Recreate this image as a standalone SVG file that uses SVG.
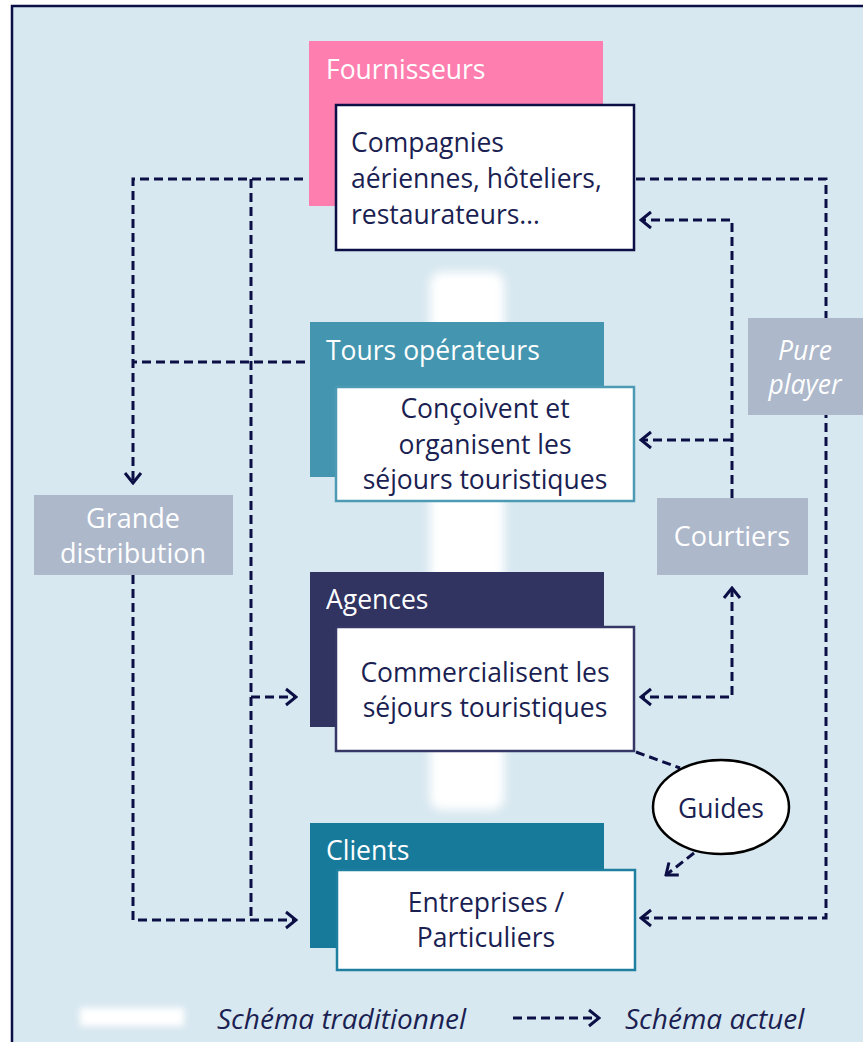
<svg xmlns="http://www.w3.org/2000/svg" width="863" height="1042" viewBox="0 0 863 1042">
<defs>
<filter id="blur" x="-30%" y="-10%" width="160%" height="120%"><feGaussianBlur stdDeviation="5"/></filter>
<filter id="blur2" x="-20%" y="-80%" width="140%" height="260%"><feGaussianBlur stdDeviation="3"/></filter>
<marker id="arr" viewBox="0 0 14 20" refX="12" refY="10" markerWidth="14" markerHeight="20" markerUnits="userSpaceOnUse" orient="auto-start-reverse">
<path d="M2,2 L12,10 L2,18" fill="none" stroke="#0b0f45" stroke-width="3"/>
</marker>
</defs>
<style>
.t{font-family:"Open Sans","Noto Sans",sans-serif;font-size:26.5px}
.title{fill:#ffffff}
.body{fill:#1b1f52;text-anchor:middle}
.gray{fill:#adb8cb}
.graytxt{fill:#ffffff;text-anchor:middle;font-size:27px}
.it{font-style:italic;font-size:28px}
.pp{font-style:italic;font-size:26.5px}
.dash{fill:none;stroke:#0b0f45;stroke-width:3;stroke-dasharray:9 5}
</style>
<rect x="12" y="6" width="900" height="1100" fill="#d8e8f0" stroke="#0b0f45" stroke-width="2.5"/>
<rect x="430" y="272" width="74" height="538" rx="12" fill="#ffffff" filter="url(#blur)"/>

<g id="connectors">
<path class="dash" d="M303,179 H133 V483" marker-end="url(#arr)"/>
<path class="dash" d="M305,362 H133"/>
<path class="dash" d="M251,179 V920"/>
<path class="dash" d="M251,697 H296" marker-end="url(#arr)"/>
<path class="dash" d="M133,575 V920 H296" marker-end="url(#arr)"/>
<path class="dash" d="M636,179 H826 V918 H641" marker-end="url(#arr)"/>
<path class="dash" d="M732,498 V220 H641" marker-end="url(#arr)"/>
<path class="dash" d="M732,440 H641" marker-end="url(#arr)"/>
<path class="dash" d="M732,588 V697 H641" marker-start="url(#arr)" marker-end="url(#arr)"/>
<path class="dash" d="M636,752 L680,768"/>
<path class="dash" d="M694,853 L666,875" marker-end="url(#arr)"/>
</g>

<g id="fournisseurs">
<rect x="309" y="41" width="294" height="165" fill="#ff7eb0"/>
<text class="t title" x="326" y="79">Fournisseurs</text>
<rect x="336" y="105" width="298" height="145" fill="#ffffff" stroke="#0b0f45" stroke-width="2.5"/>
<text class="t" fill="#1b1f52" x="351" y="152">Compagnies</text>
<text class="t" fill="#1b1f52" x="351" y="188">aériennes, hôteliers,</text>
<text class="t" fill="#1b1f52" x="351" y="224">restaurateurs…</text>
</g>

<g id="tours">
<rect x="310" y="322" width="294" height="155" fill="#4496b0"/>
<text class="t title" x="326" y="360">Tours opérateurs</text>
<rect x="336" y="387" width="298" height="114" fill="#ffffff" stroke="#4c9ab4" stroke-width="2.5"/>
<text class="t body" x="485" y="418">Conçoivent et</text>
<text class="t body" x="485" y="454">organisent les</text>
<text class="t body" x="485" y="489">séjours touristiques</text>
</g>

<g id="agences">
<rect x="310" y="572" width="294" height="155" fill="#313361"/>
<text class="t title" x="326" y="609">Agences</text>
<rect x="336" y="627" width="298" height="124" fill="#ffffff" stroke="#353866" stroke-width="2.5"/>
<text class="t body" x="485" y="682">Commercialisent les</text>
<text class="t body" x="485" y="717">séjours touristiques</text>
</g>

<g id="clients">
<rect x="310" y="823" width="294" height="125" fill="#187a9b"/>
<text class="t title" x="326" y="860">Clients</text>
<rect x="337" y="870" width="298" height="100" fill="#ffffff" stroke="#1f7fa0" stroke-width="2.5"/>
<text class="t body" x="486" y="912">Entreprises /</text>
<text class="t body" x="486" y="947">Particuliers</text>
</g>

<g id="grande-distribution">
<rect class="gray" x="34" y="495" width="199" height="80"/>
<text class="t graytxt" x="133" y="528">Grande</text>
<text class="t graytxt" x="133" y="563">distribution</text>
</g>

<g id="courtiers">
<rect class="gray" x="657" y="498" width="151" height="77"/>
<text class="t graytxt" x="732" y="546">Courtiers</text>
</g>

<g id="pure-player">
<rect class="gray" x="748" y="318" width="120" height="97"/>
<text class="t graytxt pp" x="805" y="360">Pure</text>
<text class="t graytxt pp" x="805" y="394">player</text>
</g>

<g id="guides">
<ellipse cx="721" cy="807" rx="68" ry="47" fill="#ffffff" stroke="#000000" stroke-width="2.5"/>
<text class="t" x="721" y="818" fill="#1b1f52" text-anchor="middle" font-size="30">Guides</text>
</g>

<g id="legend">
<rect x="80" y="1008" width="104" height="18" fill="#ffffff" filter="url(#blur2)"/>
<text class="t it" x="217" y="1029" fill="#1b1f52">Schéma traditionnel</text>
<path class="dash" d="M513,1018 H599" marker-end="url(#arr)"/>
<text class="t it" x="625" y="1029" fill="#1b1f52">Schéma actuel</text>
</g>
</svg>
